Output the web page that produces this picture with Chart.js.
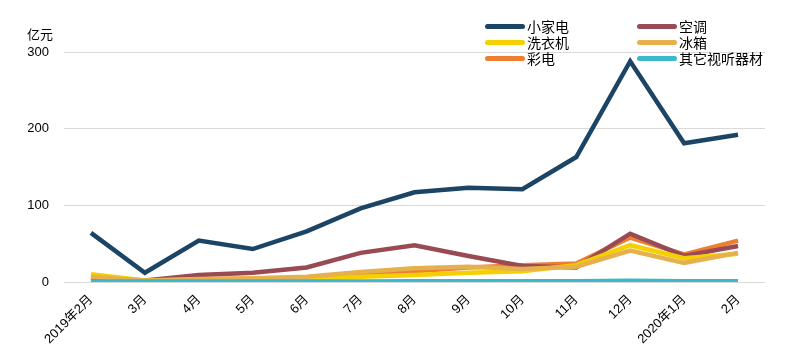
<!DOCTYPE html>
<html><head><meta charset="utf-8">
<script src="https://cdn.jsdelivr.net/npm/chart.js@4"></script>
<style>
html,body{margin:0;padding:0;background:#fff;}
#wrap{position:relative;width:798px;height:356px;}
#unit{position:absolute;left:27px;top:24px;font:13px "Liberation Sans","Noto Sans CJK SC",sans-serif;color:#000;}
.lg{position:absolute;font:14px "Liberation Sans","Noto Sans CJK SC",sans-serif;color:#000;display:flex;align-items:center;height:16px;}
.lg i{display:inline-block;width:40px;height:5px;border-radius:3px;margin-right:2px;}
</style></head>
<body><div id="wrap"><canvas id="c" width="798" height="356"></canvas><div id="unit">亿元</div><div id="legend"></div></div>
<script>
const categories = ["2019年2月","3月","4月","5月","6月","7月","8月","9月","10月","11月","12月","2020年1月","2月"];
const smallAppliance = [64, 12, 54, 43, 66, 96, 117, 123, 121, 163, 288, 181, 192];
const airCon = [3, 2, 9, 12, 19, 38, 48, 34, 21, 19, 63, 34, 47];
const washer = [10, 2, 3, 3, 4, 7, 9, 12, 14, 22, 48, 31, 37];
const fridge = [7, 2, 4, 5, 7, 13, 18, 20, 17, 20, 41, 25, 38];
const tv = [6, 2, 4, 4, 5, 9, 14, 19, 22, 24, 58, 36, 54];
const otherAV = [0.5, 0.5, 0.5, 0.5, 0.5, 0.5, 1, 1, 1, 1, 1.5, 1, 1];
const yTicks = [0, 100, 200, 300];

const series = [
  {label:"小家电", data:smallAppliance, color:"#1b4465"},
  {label:"空调", data:airCon, color:"#9a4a52"},
  {label:"洗衣机", data:washer, color:"#f5d000"},
  {label:"冰箱", data:fridge, color:"#e6b04c"},
  {label:"彩电", data:tv, color:"#ee7f32"},
  {label:"其它视听器材", data:otherAV, color:"#3bb8c9"}
];
const legendPos = [[485,18],[637,18],[485,34],[637,34],[485,50],[637,50]];
const lg = document.getElementById('legend');
series.forEach((s,i)=>{
  const d=document.createElement('div');d.className='lg';
  d.style.left=legendPos[i][0]+'px';d.style.top=legendPos[i][1]+'px';
  d.innerHTML='<i style="background:'+s.color+'"></i>'+s.label;
  lg.appendChild(d);
});
const font = {family:'"Liberation Sans","Noto Sans CJK SC",sans-serif', size:13};
const drawOrder = [5,3,2,1,4,0];
new Chart(document.getElementById('c'), {
  type:'line',
  data:{labels:categories, datasets:series.map((s,i)=>({label:s.label,data:s.data,borderColor:s.color,backgroundColor:s.color,borderWidth:4.5,pointRadius:0,tension:0,order:drawOrder[i]}))},
  options:{
    responsive:false, animation:false,
    layout:{padding:{left:0,right:33,top:52,bottom:0}},
    plugins:{legend:{display:false},tooltip:{enabled:false}},
    scales:{
      x:{offset:true, grid:{display:false}, border:{display:false},
        ticks:{color:'#000',font:font,maxRotation:45,minRotation:45,autoSkip:false,padding:2},
        afterFit:s=>{s.height=74;}},
      y:{min:0,max:300, border:{display:false}, grid:{color:'#d9d9d9',drawTicks:false,lineWidth:1},
        afterBuildTicks:s=>{s.ticks=yTicks.map(v=>({value:v}));},
        ticks:{color:'#000',font:font,padding:15},
        afterFit:s=>{s.width=64;}}
    }
  }
});
</script></body></html>
